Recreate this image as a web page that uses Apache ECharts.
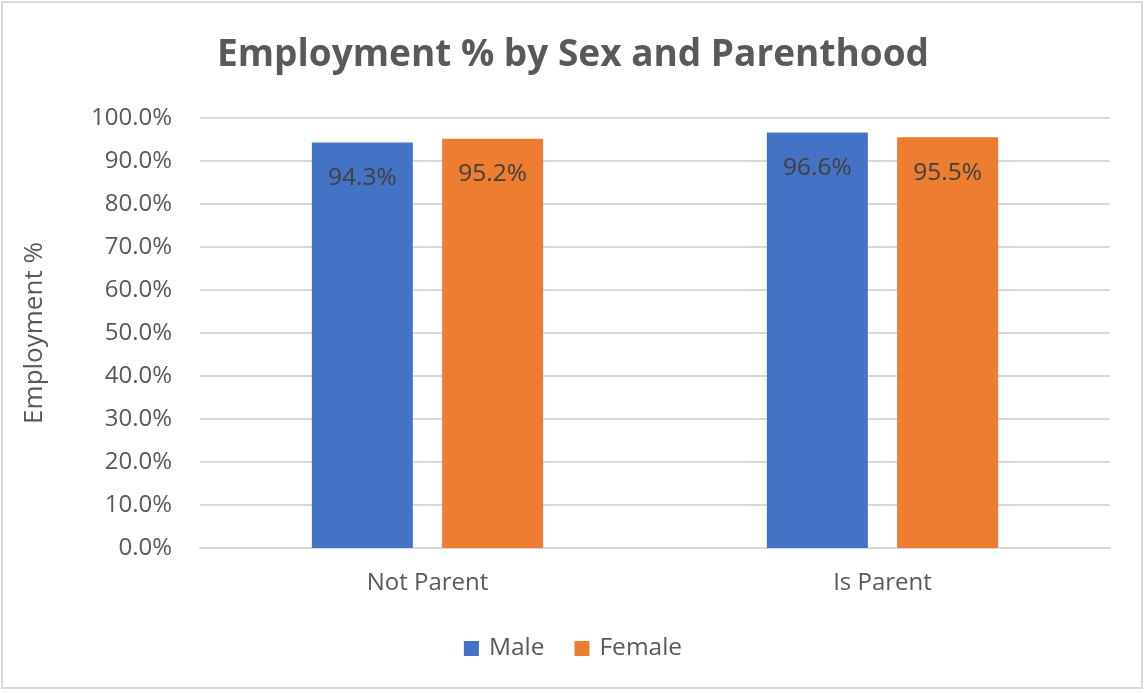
<!DOCTYPE html>
<html>
<head>
<meta charset="utf-8">
<script src="https://cdn.jsdelivr.net/npm/echarts@6/dist/echarts.min.js"></script>
<style>
  html, body { margin: 0; padding: 0; background: #fff; }
  #frame { position: absolute; left: 1px; top: 1px; width: 1142px; height: 688px; border: 2px solid #d9d9d9; box-sizing: border-box; }
  #chart { position: absolute; left: 0; top: 0; width: 1146px; height: 693px; }
</style>
</head>
<body>
<div id="frame"></div>
<div id="chart"></div>
<script>
// Employment share by sex, split by parenthood status
const categories = ['Not Parent', 'Is Parent'];
const maleValues = [94.3, 96.6];
const femaleValues = [95.2, 95.5];
const seriesNames = ['Male', 'Female'];

const FONT = '"Open Sans", "Noto Sans", sans-serif';
const TEXT = '#595959';

const chart = echarts.init(document.getElementById('chart'), null, { renderer: 'canvas' });

const valueLabel = {
  show: true,
  position: 'insideTop',
  distance: 23,
  fontFamily: FONT,
  fontSize: 24.5,
  color: '#404040',
  formatter: p => p.value.toFixed(1) + '%'
};

chart.setOption({
  animation: false,
  backgroundColor: 'transparent',
  title: {
    text: 'Employment % by Sex and Parenthood',
    left: 'center',
    top: 32,
    textStyle: { fontFamily: FONT, fontWeight: 'bold', fontSize: 37, color: TEXT }
  },
  legend: {
    data: seriesNames,
    bottom: 27,
    left: 'center',
    itemWidth: 15,
    itemHeight: 15,
    itemGap: 30,
    icon: 'rect',
    textStyle: { fontFamily: FONT, fontSize: 24.5, color: TEXT, padding: [0, 0, 0, 5] }
  },
  grid: { left: 200, right: 36, top: 118, bottom: 145, containLabel: false },
  xAxis: {
    type: 'category',
    data: categories,
    axisLine: { lineStyle: { color: '#d9d9d9', width: 2 } },
    axisTick: { show: false },
    axisLabel: { fontFamily: FONT, fontSize: 24, color: TEXT, margin: 23 }
  },
  yAxis: {
    type: 'value',
    min: 0,
    max: 100,
    interval: 10,
    name: 'Employment %',
    nameLocation: 'middle',
    nameGap: 152,
    nameTextStyle: { fontFamily: FONT, fontSize: 26, color: TEXT },
    axisLine: { show: false },
    axisTick: { show: false },
    axisLabel: {
      fontFamily: FONT, fontSize: 24, color: TEXT, margin: 28,
      formatter: v => v.toFixed(1) + '%'
    },
    splitLine: { lineStyle: { color: '#d9d9d9', width: 2 } }
  },
  series: [
    {
      name: seriesNames[0],
      type: 'bar',
      data: maleValues,
      barWidth: 101,
      barGap: '29%',
      itemStyle: { color: '#4472c4' },
      label: valueLabel
    },
    {
      name: seriesNames[1],
      type: 'bar',
      data: femaleValues,
      barWidth: 101,
      barGap: '29%',
      itemStyle: { color: '#ed7d31' },
      label: valueLabel
    }
  ]
});
</script>
</body>
</html>
